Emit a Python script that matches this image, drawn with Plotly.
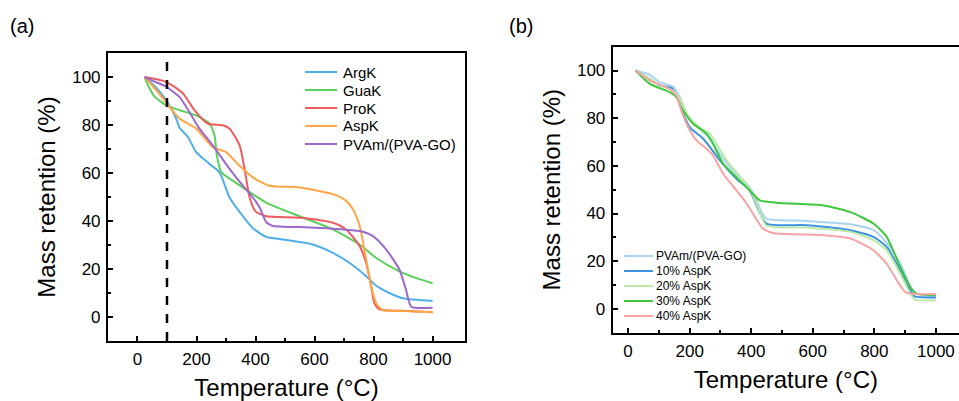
import plotly.graph_objects as go

# ---------------- Panel (a) data ----------------
a_names = ["ArgK", "GuaK", "ProK", "AspK", "PVAm/(PVA-GO)"]
a_colors = ["#4FAEE8", "#5ACF5A", "#EE5A5E", "#FFA545", "#9B68CC"]

argk_T = [24, 60, 97, 131, 142, 171, 199, 244, 278, 312, 357, 391, 436, 493, 594, 662, 719, 775, 809, 854, 899, 1000]
argk_M = [100, 96, 90.4, 82.7, 79, 75, 68.7, 63.8, 60.3, 49.8, 42, 37, 33.4, 32.3, 30.2, 26.7, 22.5, 17, 13, 10, 7.8, 6.7]

guak_T = [24, 40, 58, 97, 142, 199, 244, 261, 269, 284, 323, 436, 549, 662, 753, 809, 888, 945, 1000]
guak_M = [100, 95.5, 91.8, 88.3, 86.2, 84, 80.6, 75.7, 67.3, 60.3, 56.8, 47.7, 42, 36.5, 30.2, 24.6, 19, 16.2, 14.1]

prok_T = [24, 97, 154, 193, 238, 289, 312, 346, 363, 380, 400, 436, 549, 662, 707, 753, 775, 792, 803, 820, 900, 1000]
prok_M = [100, 98, 93.2, 86.2, 80.6, 79.9, 78.5, 71.5, 61.7, 49.8, 44, 42, 41.4, 39.3, 36.5, 29.5, 22.5, 12.7, 5.7, 3.2, 2.6, 2]

aspk_T = [24, 60, 97, 142, 199, 255, 300, 346, 391, 447, 549, 662, 707, 730, 753, 775, 792, 809, 831, 900, 1000]
aspk_M = [100, 95, 89.5, 82.7, 78.5, 70.8, 68.7, 63, 58.2, 54.7, 54, 51.2, 48.4, 44.9, 37.9, 23.9, 12.7, 5.7, 2.9, 2.5, 2]

pvam_T = [24, 60, 97, 142, 176, 210, 255, 312, 357, 391, 414, 436, 459, 549, 662, 753, 798, 843, 888, 910, 928, 1000]
pvam_M = [100, 98, 96, 91.7, 85.4, 78.5, 71.5, 61.7, 54.7, 49.8, 45.6, 39.6, 37.9, 37.5, 36.8, 35.8, 33.7, 28.1, 19.7, 11.3, 4.3, 3.9]

a_T = [argk_T, guak_T, prok_T, aspk_T, pvam_T]
a_M = [argk_M, guak_M, prok_M, aspk_M, pvam_M]

# ---------------- Panel (b) data ----------------
b_names = ["PVAm/(PVA-GO)", "10% AspK", "20% AspK", "30% AspK", "40% AspK"]
b_colors = ["#A9D3F0", "#3D94DE", "#BDE8A6", "#3EC83E", "#F7A3A3"]

b0_T = [24, 71, 104, 146, 168, 190, 222, 266, 287, 330, 395, 417, 432, 449, 580, 722, 797, 840, 884, 917, 932, 1000]
b0_M = [100, 98.2, 95, 93.3, 88.8, 81.9, 77, 71.4, 67.2, 59.5, 51.1, 45.5, 41, 37.9, 36.9, 35.5, 33, 27.7, 19, 9.2, 5.3, 5]

b1_T = [24, 71, 104, 141, 157, 179, 200, 244, 266, 298, 352, 395, 422, 449, 580, 722, 797, 840, 884, 917, 928, 1000]
b1_M = [100, 96.5, 93.7, 92.7, 89.5, 81.9, 76.3, 71.4, 67.9, 62.3, 54.6, 49.7, 42.1, 35.8, 35.1, 33, 30.2, 26, 16.2, 7.8, 5.3, 4.8]

b2_T = [24, 71, 110, 146, 168, 200, 240, 266, 287, 320, 395, 422, 449, 580, 722, 797, 840, 884, 917, 932, 1000]
b2_M = [100, 96.5, 93.5, 91.5, 88, 80, 75.5, 73.5, 69.3, 62.3, 50.4, 42.7, 35, 34.1, 32.3, 28.8, 24.6, 14.8, 6.4, 3.9, 3.5]

b3_T = [24, 71, 135, 157, 179, 211, 255, 276, 309, 352, 395, 428, 493, 635, 722, 797, 840, 884, 917, 937, 1000]
b3_M = [100, 94.4, 90.9, 88.8, 83.2, 77.7, 73.5, 69.3, 60.9, 55.3, 49.7, 45.5, 44.4, 43.4, 40.6, 35.8, 30.2, 17.6, 9.2, 6.4, 5.7]

b4_T = [24, 71, 135, 157, 173, 195, 222, 255, 276, 309, 352, 385, 438, 470, 635, 722, 797, 840, 873, 900, 928, 1000]
b4_M = [100, 95.8, 92.3, 89.5, 83.2, 76.3, 70.7, 67.2, 64.4, 56.7, 49.7, 44.2, 33.7, 31.8, 30.9, 29.5, 24.6, 19, 12, 7.1, 6.2, 6.2]

b_T = [b0_T, b1_T, b2_T, b3_T, b4_T]
b_M = [b0_M, b1_M, b2_M, b3_M, b4_M]

x_ticks = [0, 200, 400, 600, 800, 1000]
x_minor = [100, 300, 500, 700, 900]
y_ticks = [0, 20, 40, 60, 80, 100]
y_minor = [10, 30, 50, 70, 90]

FONT = "Arial, Liberation Sans, sans-serif"
W, H = 959, 401

fig = go.Figure()
for n, c, t, m in zip(a_names, a_colors, a_T, a_M):
    fig.add_trace(go.Scatter(x=t, y=m, name=n, mode="lines", showlegend=False,
                             line=dict(color=c, width=2, shape="spline", smoothing=0.6),
                             xaxis="x", yaxis="y"))
for n, c, t, m in zip(b_names, b_colors, b_T, b_M):
    fig.add_trace(go.Scatter(x=t, y=m, name=n, mode="lines", showlegend=False,
                             line=dict(color=c, width=2, shape="spline", smoothing=0.6),
                             xaxis="x2", yaxis="y2"))

def xax(domain, rng, anchor):
    return dict(domain=domain, range=rng, anchor=anchor, tickvals=x_ticks,
                ticks="inside", ticklen=5, tickwidth=2, tickcolor="black",
                minor=dict(tickvals=x_minor, ticks="inside", ticklen=3, tickwidth=1.5, tickcolor="black"),
                showline=True, linewidth=2, linecolor="black", mirror=True,
                showgrid=False, zeroline=False, ticklabelstandoff=2,
                tickfont=dict(size=17, color="black", family=FONT),
                title=dict(text="Temperature (°C)", font=dict(size=24, color="black", family=FONT), standoff=11))

def yax(domain, anchor, mirror):
    return dict(domain=domain, range=[-10, 110], anchor=anchor, tickvals=y_ticks,
                ticks="inside", ticklen=5, tickwidth=2, tickcolor="black",
                minor=dict(tickvals=y_minor, ticks="inside", ticklen=3, tickwidth=1.5, tickcolor="black"),
                showline=True, linewidth=2, linecolor="black", mirror=mirror,
                showgrid=False, zeroline=False, ticklabelstandoff=2,
                tickfont=dict(size=17, color="black", family=FONT),
                title=dict(text="Mass retention (%)", font=dict(size=24, color="black", family=FONT), standoff=10))

def px(x):
    return x / W

def py(y):
    return 1 - y / H

shapes = [dict(type="line", xref="x", yref="y", x0=100, x1=100, y0=-10, y1=110,
               line=dict(color="black", width=2.5, dash="dash"))]
annotations = [
    dict(text="(a)", x=px(8), y=py(26), xref="paper", yref="paper", xanchor="left", yanchor="middle",
         showarrow=False, font=dict(size=20, color="black", family=FONT)),
    dict(text="(b)", x=px(507), y=py(26), xref="paper", yref="paper", xanchor="left", yanchor="middle",
         showarrow=False, font=dict(size=20, color="black", family=FONT)),
]

# manual legends (line sample + label)
def add_legend(names, colors, x0, x1, xt, y0, dy, fsize):
    for i, (n, c) in enumerate(zip(names, colors)):
        yy = y0 + i * dy
        shapes.append(dict(type="line", xref="paper", yref="paper", x0=px(x0), x1=px(x1),
                           y0=py(yy), y1=py(yy), line=dict(color=c, width=2)))
        annotations.append(dict(text=n, x=px(xt), y=py(yy), xref="paper", yref="paper",
                                xanchor="left", yanchor="middle", showarrow=False,
                                font=dict(size=fsize, color="black", family=FONT)))

add_legend(a_names, a_colors, 305, 337, 341, 72, 18, 15)
add_legend(b_names, b_colors, 624, 653, 654, 256, 15, 12)

fig.update_layout(
    width=W, height=H,
    margin=dict(l=0, r=0, t=0, b=0),
    paper_bgcolor="white", plot_bgcolor="white",
    font=dict(family=FONT, color="black"),
    showlegend=False,
    xaxis=xax([0.1126, 0.4849], [-100, 1110], "y"),
    yaxis=yax([0.1496, 0.8678], "x", True),
    xaxis2=xax([0.6389, 1.0], [-50, 1075], "y2"),
    yaxis2=yax([0.1703, 0.8835], "x2", False),
    shapes=shapes,
    annotations=annotations,
)

fig.write_html("out.html", config={"displayModeBar": False},
               post_script="document.body.style.margin='0';document.body.style.overflow='hidden';")
